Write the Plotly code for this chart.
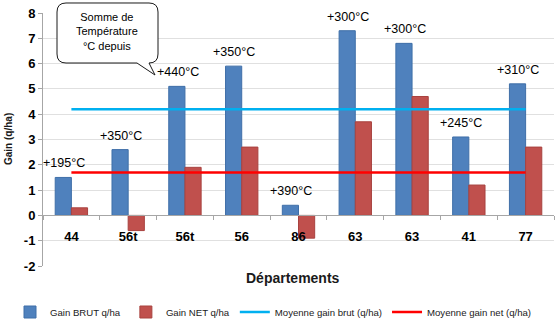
import plotly.graph_objects as go

departements = ["44", "56t", "56t", "56", "86", "63", "63", "41", "77"]
gain_brut = [1.5, 2.6, 5.1, 5.9, 0.4, 7.3, 6.8, 3.1, 5.2]
gain_net = [0.3, -0.6, 1.9, 2.7, -0.9, 3.7, 4.7, 1.2, 2.7]
temperatures = ["+195°C", "+350°C", "+440°C", "+350°C", "+390°C", "+300°C", "+300°C", "+245°C", "+310°C"]
moyenne_brut = 4.2
moyenne_net = 1.7
y_ticks = [-2, -1, 0, 1, 2, 3, 4, 5, 6, 7, 8]

FONT = "Liberation Sans, Arial, sans-serif"
W, H = 560, 322
ML, MR, MT, MB = 43, 6, 13, 56
PW, PH = W - ML - MR, H - MT - MB

def px(x):
    return (x - ML) / PW

def py(y):
    return (H - MB - y) / PH

xs = list(range(len(departements)))

fig = go.Figure()
fig.add_trace(go.Bar(x=xs, y=gain_brut, name="Gain BRUT q/ha",
                     marker=dict(color="#4F81BD", line=dict(color="#3F6FA8", width=1))))
fig.add_trace(go.Bar(x=xs, y=gain_net, name="Gain NET q/ha",
                     marker=dict(color="#C0504D", line=dict(color="#A8423F", width=1))))
fig.add_trace(go.Scatter(x=xs, y=[moyenne_brut] * len(xs), mode="lines",
                         name="Moyenne gain brut (q/ha)", line=dict(color="#00B0F0", width=2.5)))
fig.add_trace(go.Scatter(x=xs, y=[moyenne_net] * len(xs), mode="lines",
                         name="Moyenne gain net (q/ha)", line=dict(color="#FF0000", width=2.5)))

annotations = []
for i, (t, v) in enumerate(zip(temperatures, gain_brut)):
    annotations.append(dict(x=i - 0.13, y=v, text=t, showarrow=False, xanchor="center",
                            yanchor="bottom", yshift=5,
                            font=dict(family=FONT, size=12.5, color="#000000")))

# axis titles
annotations.append(dict(xref="paper", yref="paper", x=px(293), y=py(278), text="<b>Départements</b>",
                        xanchor="center", yanchor="middle",
                        showarrow=False, font=dict(family=FONT, size=14, color="#1a1a1a")))
annotations.append(dict(xref="paper", yref="paper", x=px(8), y=py(139), text="<b>Gain (q/ha)</b>",
                        xanchor="center", yanchor="middle",
                        textangle=-90, showarrow=False, font=dict(family=FONT, size=10, color="#1a1a1a")))

# callout text
annotations.append(dict(xref="paper", yref="paper", x=px(107), y=py(31),
                        xanchor="center", yanchor="middle",
                        text="Somme de<br>Température<br>°C depuis", showarrow=False,
                        font=dict(family=FONT, size=11, color="#000000")))

# callout bubble shape (pixel geometry converted to paper)
L, R, T, B, r = 57, 158, 3, 63, 9
tip = (155, 75)
pts = [
    ("M", [(L + r, T)]),
    ("L", [(R - r, T)]),
    ("Q", [(R, T), (R, T + r)]),
    ("L", [(R, B - r)]),
    ("Q", [(R, B), (R - r, B)]),
    ("L", [(149, B)]),
    ("L", [tip]),
    ("L", [(137, B)]),
    ("L", [(L + r, B)]),
    ("Q", [(L, B), (L, B - r)]),
    ("L", [(L, T + r)]),
    ("Q", [(L, T), (L + r, T)]),
]
path = ""
for cmd, ps in pts:
    path += cmd + " " + " ".join(f"{px(a):.5f},{py(b):.5f}" for a, b in ps) + " "
path += "Z"

fig.update_layout(
    width=W, height=H,
    margin=dict(l=ML, r=MR, t=MT, b=MB, autoexpand=False),
    paper_bgcolor="white", plot_bgcolor="white",
    barmode="group", bargap=0.43, bargroupgap=0,
    font=dict(family=FONT, color="#1a1a1a"),
    shapes=[dict(type="path", xref="paper", yref="paper", path=path,
                 line=dict(color="#1a1a1a", width=1), fillcolor="white", layer="above")],
    annotations=annotations,
    legend=dict(orientation="h", x=px(10), xanchor="left", y=py(312), yanchor="middle",
                font=dict(family=FONT, size=9.6, color="#1a1a1a"), itemwidth=30,
                tracegroupgap=0, bgcolor="rgba(0,0,0,0)"),
    showlegend=True,
)
fig.update_xaxes(
    range=[-0.5, len(xs) - 0.5],
    tickvals=xs, ticktext=[f"<b>{d}</b>" for d in departements],
    tickfont=dict(family=FONT, size=13, color="#000000"),
    ticks="outside", ticklen=9, tickcolor="rgba(0,0,0,0)",
    minor=dict(tick0=-0.5, dtick=1, ticks="outside", ticklen=4, tickcolor="#A6A6A6", showgrid=False),
    showline=True, linecolor="#A6A6A6", linewidth=1,
    showgrid=False, zeroline=False,
    anchor="free", position=py(215),
)
fig.update_yaxes(
    range=[-2, 8], tickvals=y_ticks, ticktext=[f"<b>{v}</b>" for v in y_ticks],
    tickfont=dict(family=FONT, size=13, color="#000000"),
    ticks="outside", ticklen=4, tickcolor="#A6A6A6",
    showline=True, linecolor="#A6A6A6", linewidth=1,
    showgrid=True, gridcolor="#E0E0E0", gridwidth=1,
    zeroline=False,
)

fig.write_html("out.html")
